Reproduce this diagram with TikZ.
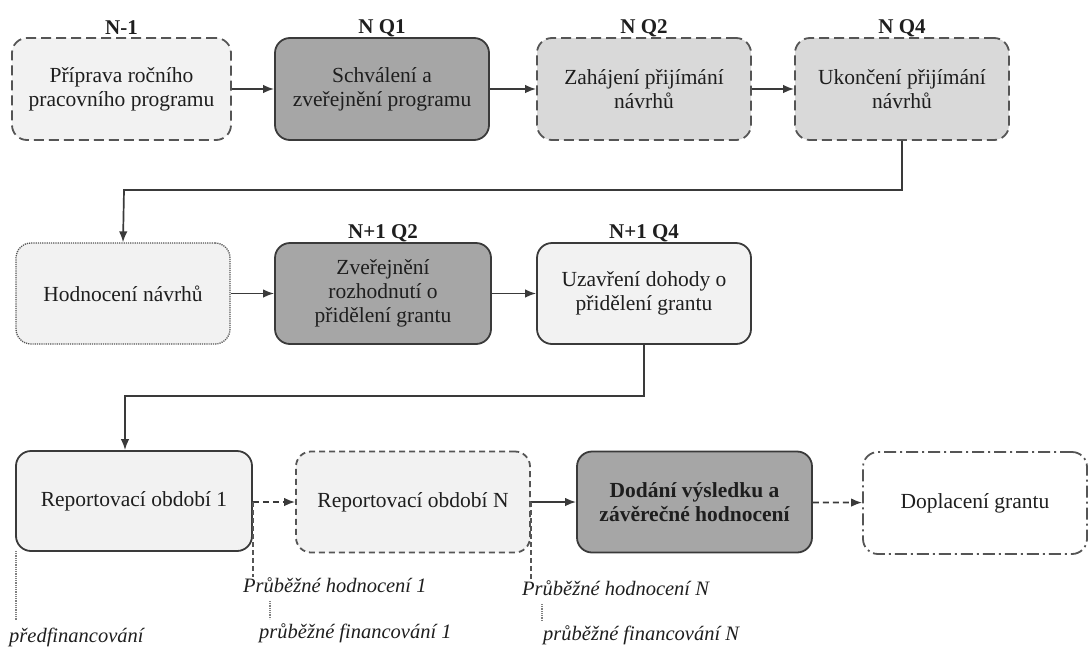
\documentclass[tikz,border=0pt]{standalone}
\usepackage{fontspec}
\setmainfont{Liberation Serif}
\usetikzlibrary{arrows.meta}
\definecolor{vlight}{HTML}{F2F2F2}
\definecolor{mlight}{HTML}{D9D9D9}
\definecolor{dgray}{HTML}{A6A6A6}
\definecolor{bord}{HTML}{3A3A3A}
\definecolor{dbord}{HTML}{555555}
\definecolor{txt}{HTML}{1E1E1E}
\tikzset{
  box/.style={rounded corners=15pt, line width=1.8pt, align=center, inner sep=0pt,
    text=txt, font=\fontsize{21.5}{24}\selectfont},
  solidbox/.style={box, draw=bord},
  dashbox/.style={box, draw=dbord, dash pattern=on 10pt off 5pt},
  sdashbox/.style={box, draw=dbord, dash pattern=on 6pt off 4pt},
  dotbox/.style={box, draw=dbord, line width=1.3pt, dash pattern=on 1.2pt off 1pt},
  dotdashbox/.style={box, draw=dbord, dash pattern=on 12pt off 4pt on 2pt off 4pt},
  period/.style={font=\fontsize{21}{24}\selectfont\bfseries, text=txt, inner sep=0pt},
  note/.style={font=\fontsize{20.5}{23}\selectfont\itshape, text=txt, inner sep=0pt, anchor=west},
  conn/.style={line width=1.7pt, draw=bord, -{Latex[length=11pt,width=8.5pt]}},
  dconn/.style={conn, dash pattern=on 6pt off 4pt},
  dline/.style={line width=1.4pt, draw=dbord, dash pattern=on 5pt off 3pt},
  tline/.style={line width=1.1pt, draw=gray, dash pattern=on 1pt off 0.8pt},
}
\begin{document}
\begin{tikzpicture}[x=1pt,y=-1pt]
\useasboundingbox (0,0) rectangle (1091,648);
% row 1
\node[dashbox, fill=vlight, minimum width=219pt, minimum height=102pt] (b1) at (121.5,89) {Příprava ročního\\pracovního programu};
\node[solidbox, fill=dgray, minimum width=214pt, minimum height=102pt] (b2) at (382,89) {Schválení a\\zveřejnění programu};
\node[dashbox, fill=mlight, minimum width=214pt, minimum height=102pt] (b3) at (644,89) {Zahájení přijímání\\návrhů};
\node[dashbox, fill=mlight, minimum width=214pt, minimum height=102pt] (b4) at (902,89) {Ukončení přijímání\\návrhů};
\node[period] (l1) at (121.5,28) {N-1};
\node[period] (l2) at (382,28) {N Q1};
\node[period] (l3) at (644,28) {N Q2};
\node[period] (l4) at (902,28) {N Q4};
% row 2
\node[dotbox, fill=vlight, minimum width=214pt, minimum height=101pt] (b5) at (123,293.5) {Hodnocení návrhů};
\node[solidbox, fill=dgray, minimum width=216pt, minimum height=101pt] (b6) at (383,293.5) {Zveřejnění\\rozhodnutí o\\přidělení grantu};
\node[solidbox, fill=vlight, minimum width=214pt, minimum height=101pt] (b7) at (644,293.5) {Uzavření dohody o\\přidělení grantu};
\node[period] (l5) at (383,233) {N+1 Q2};
\node[period] (l6) at (644,233) {N+1 Q4};
% row 3
\node[solidbox, fill=vlight, minimum width=236pt, minimum height=100pt] (b8) at (134,501) {Reportovací období 1};
\node[sdashbox, fill=vlight, minimum width=234pt, minimum height=101pt] (b9) at (413,502) {Reportovací období N};
\node[solidbox, fill=dgray, minimum width=235pt, minimum height=101pt, font=\fontsize{21.5}{24}\selectfont\bfseries] (b10) at (694.5,502) {Dodání výsledku a\\závěrečné hodnocení};
\node[dotdashbox, fill=white, minimum width=224pt, minimum height=102pt] (b11) at (975,503) {Doplacení grantu};
% notes
\node[note] (pf) at (9,637) {předfinancování};
\node[note] (h1) at (243,585) {Průběžné hodnocení 1};
\node[note] (f1) at (259,633) {průběžné financování 1};
\node[note] (hN) at (522,588) {Průběžné hodnocení N};
\node[note] (fN) at (543,635) {průběžné financování N};
% turning points and free ends
\coordinate (t1) at (124,190);
\coordinate (t2) at (125,396);
\coordinate (pfa) at (16,551);
\coordinate (pfb) at (16,621);
\coordinate (f1a) at (270,601);
\coordinate (f1b) at (270,619);
\coordinate (fNa) at (542,604);
\coordinate (fNb) at (542,621);
% connectors
\draw[conn] (b1) -- (b2);
\draw[conn] (b2) -- (b3);
\draw[conn] (b3) -- (b4);
\draw[conn] (b4.south) |- (t1) -- (b5.north);
\draw[conn] (b5) -- (b6);
\draw[conn] (b6) -- (b7);
\draw[conn] (b7.south) |- (t2) -- (t2 |- b8.north);
\draw[dconn] (b8.east |- b9.center) -- (b9.west |- b9.center);
\draw[conn] (b9) -- (b10);
\draw[dconn] (b10) -- (b11);
% vertical note lines
\draw[dline] (b8.east |- b9.center) -- (b8.east |- h1.north);
\draw[dline] (b9.east) -- (b9.east |- hN.north);
\draw[tline] (pfa) -- (pfb);
\draw[tline] (f1a) -- (f1b);
\draw[tline] (fNa) -- (fNb);
\end{tikzpicture}
\end{document}
